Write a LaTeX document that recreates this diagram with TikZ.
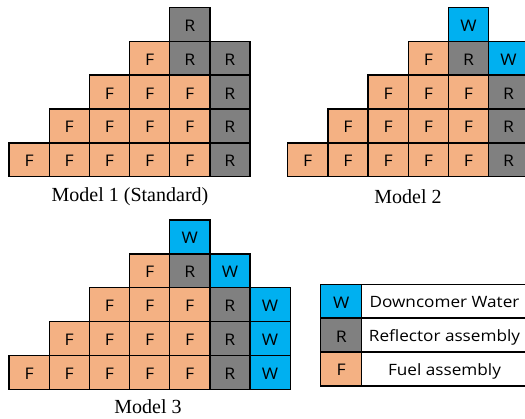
\documentclass[tikz,border=0pt]{standalone}
\usepackage{fontspec}
\setmainfont{Liberation Serif}
\newfontfamily\cellfont{Open Sans}[FakeStretch=1.1]
\definecolor{colF}{RGB}{244,177,131}
\definecolor{colR}{RGB}{128,128,128}
\definecolor{colW}{RGB}{0,176,240}
\tikzset{
  cell/.style={draw=black, line width=1.3pt, fill=col#1, minimum width=40.17pt,
    minimum height=33.9pt, inner sep=0pt, text height=14pt, text depth=0pt,
    font=\cellfont\fontsize{16}{17}\selectfont, text=black},
  legtext/.style={draw=black, line width=1.3pt, fill=white, minimum width=165.6pt,
    minimum height=33.9pt, inner sep=0pt, text height=13pt, text depth=0pt,
    font=\cellfont\fontsize{15.6}{17}\selectfont, text=black},
  caption/.style={font=\fontsize{20}{22}\selectfont, inner sep=0pt}
}
\newcommand\cellgrid[4]{%
  \foreach \r/\c/\t in {#4} {
    \node[cell=\t] (#1-\r-\c) at ({#2+(\c+0.5)*40.17},{#3+(\r+0.5)*33.9}) {\t};
  }}
\begin{document}
\begin{tikzpicture}[x=1pt,y=-1pt]
\useasboundingbox[fill=white] (0,0) rectangle (525,419);
\clip (0,0) rectangle (525,419);
% Model 1
\cellgrid{a}{9}{7.3}{0/4/R,1/3/F,1/4/R,1/5/R,2/2/F,2/3/F,2/4/F,2/5/R,3/1/F,3/2/F,3/3/F,3/4/F,3/5/R,4/0/F,4/1/F,4/2/F,4/3/F,4/4/F,4/5/R}
\node[caption] (capa) at (130,197) {Model 1 (Standard)};
% Model 2
\cellgrid{b}{287.7}{7.3}{0/4/W,1/3/F,1/4/R,1/5/W,2/2/F,2/3/F,2/4/F,2/5/R,3/1/F,3/2/F,3/3/F,3/4/F,3/5/R,4/0/F,4/1/F,4/2/F,4/3/F,4/4/F,4/5/R}
\node[caption] (capb) at (408,197) {Model 2};
% Model 3
\cellgrid{c}{9}{220}{0/4/W,1/3/F,1/4/R,1/5/W,2/2/F,2/3/F,2/4/F,2/5/R,2/6/W,3/1/F,3/2/F,3/3/F,3/4/F,3/5/R,3/6/W,4/0/F,4/1/F,4/2/F,4/3/F,4/4/F,4/5/R,4/6/W}
\node[caption] (capc) at (148,406.7) {Model 3};
% Legend
\node[cell=W, minimum width=41pt] (kw) at (341.2,301.2) {W};
\node[cell=R, minimum width=41pt] (kr) at (341.2,335.1) {R};
\node[cell=F, minimum width=41pt] (kf) at (341.2,369.0) {F};
\node[legtext] (tw) at (444.5,301.2) {Downcomer Water};
\node[legtext] (tr) at (444.5,335.1) {Reflector assembly};
\node[legtext] (tf) at (444.5,369.0) {Fuel assembly};
\end{tikzpicture}
\end{document}
